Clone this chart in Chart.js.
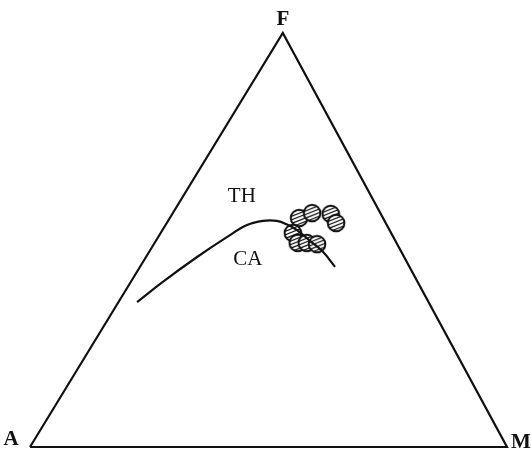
<!DOCTYPE html>
<html>
<head>
<meta charset="utf-8">
<script src="https://cdn.jsdelivr.net/npm/chart.js@4"></script>
<style>
  html, body { margin: 0; padding: 0; background: #fff; }
  #wrap { width: 531px; height: 453px; }
</style>
</head>
<body>
<div id="wrap"><canvas id="afmChart" width="531" height="453"></canvas></div>
<script>
// AFM diagram: A = Na2O+K2O, F = FeO*, M = MgO (wt %)
const boundaryA = [61.1, 53.4, 43.4, 34.9, 29.3, 25.5, 22.6, 20.7, 19.4, 17.9, 16.4, 15.6];
const boundaryF = [35.0, 39.9, 45.9, 50.7, 53.6, 54.6, 54.6, 53.6, 52.4, 49.8, 47.1, 43.5];
const boundaryM = [3.9, 6.7, 10.7, 14.4, 17.1, 19.9, 22.8, 25.7, 28.2, 32.3, 36.5, 40.9];

const sampleA = [17.6, 14.3, 10.5, 10.4, 20.6, 20.7, 18.8, 16.8];
const sampleF = [55.3, 56.5, 56.3, 54.1, 51.7, 49.3, 49.3, 49.0];
const sampleM = [27.1, 29.2, 33.2, 35.5, 27.7, 30.0, 31.9, 34.2];

const cornerNames = ['A', 'M', 'F'];
const fieldNames = ['TH', 'CA'];
const fieldA = [27.2, 33.1];
const fieldF = [60.4, 45.2];
const fieldM = [12.4, 21.7];

// apex position of the (slightly sheared) printed triangle
const FX = 0.530, FY = 0.868;

// ternary -> cartesian (A at origin, M at x=100, F at apex)
function tern(a, f, m) {
  const t = a + f + m;
  return { x: (m + f * FX) / t * 100, y: f * FY / t * 100 };
}

const corners = [tern(100, 0, 0), tern(0, 0, 100), tern(0, 100, 0)];
const boundary = boundaryA.map((a, i) => tern(a, boundaryF[i], boundaryM[i]));
const samples = sampleA.map((a, i) => tern(a, sampleF[i], sampleM[i]));

// hatched open circle used as the sample symbol
function hatchedDot(r) {
  const size = Math.ceil(r * 2 + 3);
  const c = document.createElement('canvas');
  c.width = size; c.height = size;
  const g = c.getContext('2d');
  const cx = size / 2, cy = size / 2;
  g.save();
  g.beginPath();
  g.arc(cx, cy, r, 0, Math.PI * 2);
  g.fillStyle = '#fff';
  g.fill();
  g.clip();
  g.strokeStyle = '#111';
  g.lineWidth = 1.2;
  for (let k = -size; k < size * 2; k += 3.6) {
    g.beginPath();
    g.moveTo(0, k + size * 0.2);
    g.lineTo(size, k - size * 0.2);
    g.stroke();
  }
  g.restore();
  g.beginPath();
  g.arc(cx, cy, r, 0, Math.PI * 2);
  g.lineWidth = 2;
  g.strokeStyle = '#111';
  g.stroke();
  return c;
}

const textPlugin = {
  id: 'afmText',
  afterDatasetsDraw(chart) {
    const { ctx, scales: { x, y } } = chart;
    ctx.save();
    ctx.fillStyle = '#111';
    ctx.textAlign = 'center';
    ctx.textBaseline = 'middle';

    // corner labels, offset outward from the triangle
    const offsets = [[-19, -7], [14, -4], [0, -13]];
    ctx.font = 'bold 21px "Liberation Serif", "DejaVu Serif", serif';
    corners.forEach((p, i) => {
      ctx.fillText(cornerNames[i], x.getPixelForValue(p.x) + offsets[i][0], y.getPixelForValue(p.y) + offsets[i][1]);
    });

    ctx.font = '21px "Liberation Serif", "DejaVu Serif", serif';
    fieldNames.forEach((name, i) => {
      const p = tern(fieldA[i], fieldF[i], fieldM[i]);
      ctx.fillText(name, x.getPixelForValue(p.x), y.getPixelForValue(p.y));
    });
    ctx.restore();
  }
};

new Chart(document.getElementById('afmChart'), {
  type: 'scatter',
  data: {
    datasets: [
      {
        label: 'frame',
        data: [corners[0], corners[1], corners[2], corners[0]],
        showLine: true,
        borderColor: '#111',
        borderWidth: 2.2,
        pointRadius: 0,
        tension: 0,
        clip: false
      },
      {
        label: 'TH/CA boundary',
        data: boundary,
        showLine: true,
        borderColor: '#111',
        borderWidth: 2.2,
        pointRadius: 0,
        tension: 0.4,
        clip: false
      },
      {
        label: 'samples',
        data: samples,
        pointStyle: hatchedDot(8.3),
        clip: false
      }
    ]
  },
  options: {
    responsive: false,
    animation: false,
    layout: { padding: { left: 30, right: 24, top: 33, bottom: 6 } },
    plugins: { legend: { display: false }, tooltip: { enabled: false } },
    scales: {
      x: { type: 'linear', min: 0, max: 100, display: false },
      y: { type: 'linear', min: 0, max: 100 * FY, display: false }
    }
  },
  plugins: [textPlugin]
});
</script>
</body>
</html>
